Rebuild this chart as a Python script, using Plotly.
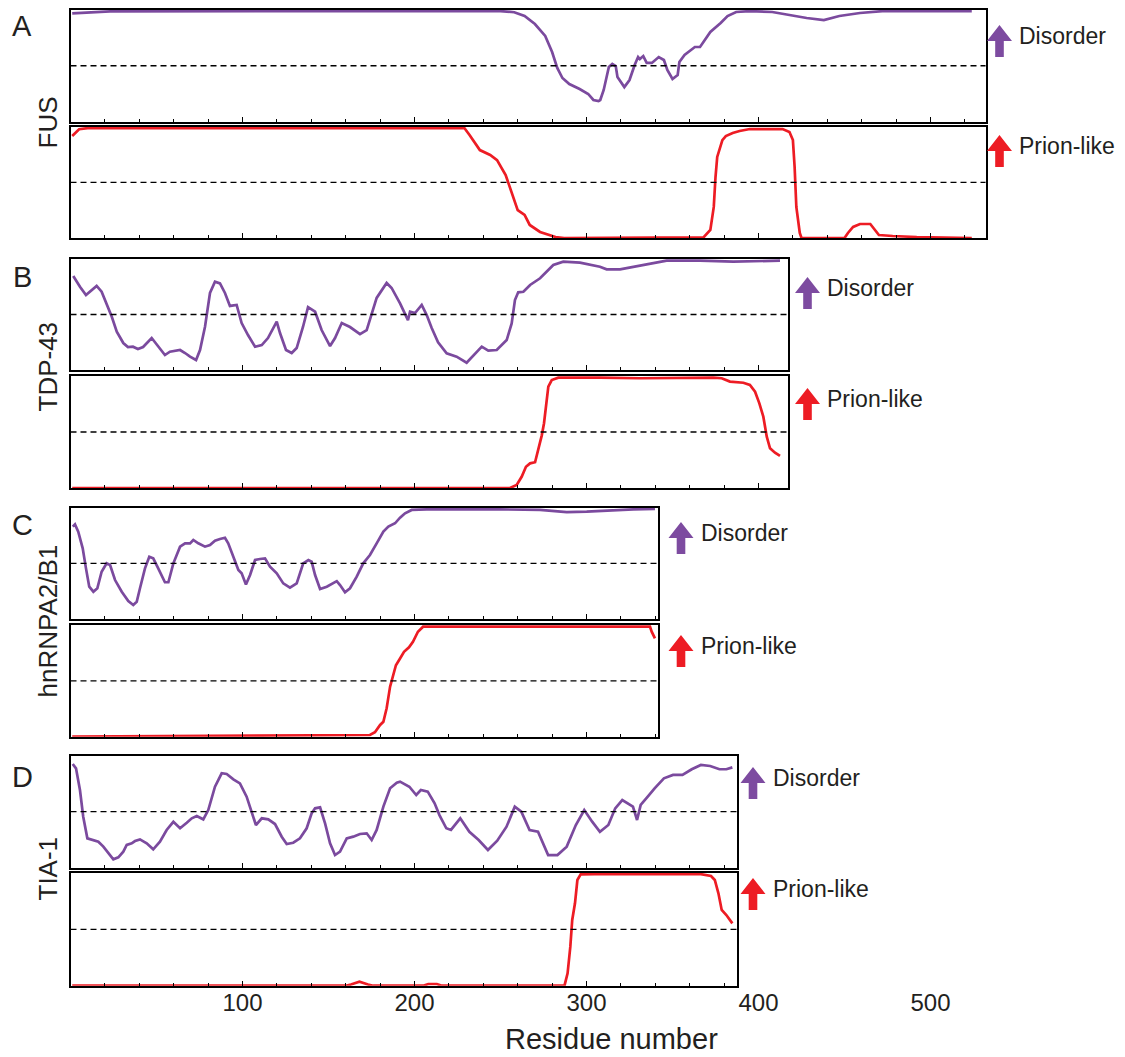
import plotly.graph_objects as go

# ---------------- data (residue, score) ----------------
PROTEINS = ["FUS", "TDP-43", "hnRNPA2/B1", "TIA-1"]
PANEL_LETTERS = ["A", "B", "C", "D"]
SERIES_LABELS = ["Disorder", "Prion-like"]
TICK_LABELS = [100, 200, 300, 400, 500]

FUS_DISORDER = [(1, .969), (23, .987), (133, .99), (250, .99), (258, .98), (264, .946), (270, .874),
                (276, .767), (280, .623), (283, .48), (286, .39), (290, .336), (296, .291), (301, .247),
                (304, .193), (307, .184), (308, .193), (310, .283), (313, .489), (315, .516), (317, .498),
                (318, .40), (322, .309), (325, .372), (328, .507), (330, .578), (331, .56), (333, .587),
                (335, .525), (338, .525), (342, .578), (345, .552), (347, .462), (350, .381), (353, .417),
                (354, .534), (357, .596), (360, .632), (363, .668), (366, .668), (368, .713), (372, .803),
                (378, .883), (382, .946), (387, .982), (395, .99), (408, .982), (420, .946), (428, .928),
                (438, .91), (447, .946), (459, .973), (472, .99), (524, .99)]
FUS_PRION = [(1, .916), (5, .977), (10, .988), (229, .988), (232, .925), (238, .79), (244, .746),
             (248, .70), (253, .566), (256, .43), (258, .36), (260, .25), (264, .207), (267, .117),
             (273, .054), (282, .009), (287, 0), (368, .005), (372, .072), (374, .279), (375, .548),
             (376, .728), (379, .88), (381, .916), (385, .943), (389, .961), (395, .979), (414, .979),
             (418, .952), (420, .88), (421, .638), (422, .279), (424, .045), (425, 0), (450, 0),
             (452, .045), (455, .099), (459, .126), (465, .126), (468, .072), (470, .027), (478, .018),
             (492, .009), (524, 0)]

TDP_DISORDER = [(1.6, .847), (5.5, .75), (9, .676), (12.3, .72), (15.2, .757), (18.1, .706), (21, .603),
                (24, .48), (26.9, .345), (30.7, .243), (33.4, .207), (36.3, .21), (39.2, .189), (42.2, .207),
                (47.2, .288), (50.9, .21), (54.9, .135), (57.8, .165), (63.7, .18), (66.6, .153), (69.5, .12),
                (73, .09), (75.3, .18), (78.2, .39), (81.1, .694), (84, .795), (86.9, .78), (89.8, .694),
                (92.7, .577), (96.6, .586), (99.5, .423), (103.2, .315), (107.3, .21), (111.2, .225),
                (114.8, .288), (119.9, .435), (121.8, .333), (125.3, .18), (128.6, .153), (131.5, .198),
                (135.2, .39), (138.1, .567), (142.2, .525), (146, .36), (150.9, .216), (153.8, .288),
                (157.7, .423), (162.5, .387), (168.3, .324), (172.2, .36), (175.1, .495), (178, .649),
                (183.8, .784), (186.7, .739), (191.6, .60), (194.5, .513), (196.2, .45), (197.4, .525),
                (200.3, .513), (204.2, .586), (207.1, .495), (210, .378), (213.7, .25), (218.7, .15),
                (224.5, .12), (230.3, .066), (235.2, .15), (239.1, .21), (242.9, .174), (247.8, .18),
                (253.6, .27), (256.5, .42), (258.4, .63), (260.3, .70), (263.3, .705), (267.2, .766),
                (273, .826), (280.7, .946), (286.5, .976), (296.2, .967), (307.8, .93), (311.7, .907),
                (319.5, .907), (327.2, .93), (338.8, .96), (346.6, .985), (366, .985), (385.3, .976),
                (412.5, .985)]
TDP_PRION = [(1, 0), (255.5, 0), (259.4, .027), (262.3, .10), (264.8, .19), (267.2, .22), (270.1, .23),
             (272, .34), (274, .47), (275.3, .578), (276.5, .756), (277.8, .905), (279.8, .964),
             (283.6, .985), (307.8, .985), (331, .98), (373.7, .985), (378.6, .98), (383.4, .95),
             (391.2, .94), (395, .92), (398, .86), (400.5, .756), (402.8, .637), (404.8, .458),
             (406.7, .354), (409.6, .315), (412.5, .286)]

HNRNP_DISORDER = [(1.3, .83), (2.6, .85), (4.5, .785), (7.1, .635), (9, .455), (10.9, .29), (13.3, .245),
                  (15.6, .276), (18.1, .425), (21, .5), (23, .485), (25.9, .35), (29.8, .245), (33.6, .162),
                  (36.5, .126), (38.5, .155), (40.4, .276), (43.3, .455), (45.8, .56), (48.1, .545),
                  (51, .455), (54.9, .33), (56.9, .33), (59.8, .5), (63.7, .65), (66.6, .68), (69.5, .68),
                  (71.4, .71), (74.3, .68), (78.2, .65), (81.1, .665), (84, .704), (86.9, .719), (89.8, .73),
                  (91.7, .68), (94.7, .56), (97.6, .44), (99.5, .41), (102, .31), (104.4, .395), (107.3, .53),
                  (110.2, .539), (113.1, .545), (116, .47), (119.9, .41), (123.7, .32), (127.6, .281),
                  (131.5, .32), (135.3, .5), (138.3, .53), (140.2, .515), (142.2, .395), (145.1, .27),
                  (149, .29), (154.8, .34), (156.7, .305), (159.6, .24), (162.5, .276), (166.4, .38),
                  (170.2, .5), (174.1, .575), (178, .68), (181.9, .785), (184.8, .83), (188.7, .86),
                  (191.6, .91), (194.5, .95), (198.4, .98), (207.1, .985), (249.7, .985), (273, .98),
                  (288.5, .96), (300.1, .964), (327.2, .985), (339.8, .99)]
HNRNP_PRION = [(1, 0), (174.1, .015), (177, .04), (180, .105), (181.9, .134), (183.8, .254), (185.8, .448),
               (187.5, .55), (189.2, .64), (191.6, .70), (193.9, .76), (196.8, .80), (199.1, .85), (202, .94),
               (205, .985), (210.8, .985), (336.9, .985), (337.9, .94), (339.8, .88)]

TIA_DISORDER = [(1.3, .926), (3.2, .887), (5.5, .694), (7.4, .455), (9.8, .262), (13.3, .247), (16.2, .232),
                (19.1, .188), (22, .129), (24.9, .075), (27.8, .093), (30.7, .143), (32.7, .203), (35.6, .218),
                (37.5, .238), (40.4, .253), (44.3, .218), (48.1, .164), (52, .232), (55.9, .337), (59.8, .41),
                (63.7, .352), (67.6, .402), (70.5, .441), (73.4, .462), (77.2, .432), (80.1, .515), (84, .723),
                (87.9, .843), (90.8, .837), (94.7, .789), (98.5, .753), (102.4, .634), (105.3, .5), (107.8, .381),
                (111.2, .441), (115, .432), (118.9, .39), (122.8, .277), (125.7, .212), (129.5, .223),
                (133.4, .262), (137.3, .352), (140.2, .486), (142.2, .53), (145.1, .539), (148, .396),
                (150.9, .218), (153.8, .113), (156.7, .143), (160.6, .262), (164.4, .277), (168.3, .301),
                (172.2, .307), (175.1, .247), (178, .337), (181.9, .545), (185.8, .709), (189.7, .759),
                (191.6, .768), (197, .723), (201, .649), (203.7, .694), (207.7, .679), (211.7, .575),
                (214.5, .47), (218.5, .352), (221.2, .337), (226.6, .441), (231.9, .321), (237.3, .247),
                (242.7, .158), (248.1, .241), (253.5, .366), (258.3, .545), (262.1, .5), (266.9, .337),
                (271.8, .321), (277.7, .113), (283.1, .113), (288.5, .188), (293.8, .381), (298.7, .515),
                (303.3, .411), (307.8, .321), (312.7, .381), (316.7, .53), (320.8, .604), (323.5, .575),
                (327, .545), (329.4, .426), (331.5, .56), (335.6, .634), (339.6, .709), (345, .798),
                (350.3, .828), (355.8, .828), (361.2, .879), (366.5, .917), (371.9, .908), (377.3, .879),
                (381.3, .879), (384.8, .896)]
TIA_PRION = [(1, 0), (160, 0), (163, .01), (168, .035), (173, .01), (176, 0), (205, 0), (208, .015),
             (213, .015), (216, 0), (287.2, 0), (289, .11), (290.6, .346), (291.7, .583), (293.3, .731),
             (294.7, .938), (296.6, .988), (304.6, .99), (366.5, .99), (372.4, .973), (374.6, .938),
             (376.7, .82), (378.6, .672), (381.3, .627), (384.8, .553)]

SERIES = [(FUS_DISORDER, FUS_PRION), (TDP_DISORDER, TDP_PRION),
          (HNRNP_DISORDER, HNRNP_PRION), (TIA_DISORDER, TIA_PRION)]
THRESHOLD = 0.5

# ---------------- layout (pixels) ----------------
W, H = 1125, 1057
LEFT = 70.5           # px position of residue 0
PXR = 1.72            # px per residue
AXIS_MAX = [532, 417, 341.6, 387.3]
ROWS = [(10, 121.5, 126.7, 238), (259, 370, 376, 488),
        (507.7, 619, 625, 736.7), (755.7, 867.7, 873, 985.7)]
ARROW_X = [999.5, 807.5, 681, 753]
ARROW_TOPS = [(25, 135), (277, 388), (522, 635), (767, 878)]
LETTER_Y = [26, 277, 525, 777]
NAME_Y = [123, 367, 621, 869]

PURPLE = "#7B4A9E"
PURPLE_ARROW = "#7D4BA0"
RED = "#ED1C24"
TEXT = "#231F20"
FONT = "Liberation Sans, Arial, Helvetica, sans-serif"


def px_x(p):
    return p / W


def px_y(p):
    return 1 - p / H


def arrow_path(cx, top):
    hw, sw, hh, L = 12.5, 4.3, 16, 32
    pts = [(cx, top), (cx + hw, top + hh), (cx + sw, top + hh), (cx + sw, top + L),
           (cx - sw, top + L), (cx - sw, top + hh), (cx - hw, top + hh)]
    return "M " + " L ".join(f"{px_x(x):.5f},{px_y(y):.5f}" for x, y in pts) + " Z"


fig = go.Figure()
layout = {}
shapes = []
annotations = []

for i in range(4):
    top_d, bot_d, top_p, bot_p = ROWS[i]
    xdom = [px_x(LEFT), px_x(LEFT + AXIS_MAX[i] * PXR)]
    for j, (data, color, (t, b)) in enumerate([(SERIES[i][0], PURPLE, (top_d, bot_d)),
                                               (SERIES[i][1], RED, (top_p, bot_p))]):
        k = 2 * i + j + 1
        suf = "" if k == 1 else str(k)
        fig.add_trace(go.Scatter(x=[p[0] for p in data], y=[p[1] for p in data], mode="lines",
                                 line=dict(color=color, width=2.7), xaxis="x" + suf, yaxis="y" + suf,
                                 showlegend=False, hoverinfo="skip"))
        layout["xaxis" + suf] = dict(
            domain=xdom, range=[0, AXIS_MAX[i]], anchor="y" + suf,
            showline=True, mirror=True, linecolor="black", linewidth=1.7,
            ticks="inside", tick0=0, dtick=100, ticklen=5, tickwidth=1.2, tickcolor="black",
            showticklabels=False, showgrid=False, zeroline=False,
            minor=dict(tick0=0, dtick=20, ticks="inside", ticklen=3, tickwidth=1, tickcolor="black",
                       showgrid=False))
        layout["yaxis" + suf] = dict(
            domain=[px_y(b), px_y(t)], range=[0, 1], anchor="x" + suf,
            showline=True, mirror=True, linecolor="black", linewidth=1.7,
            ticks="", showticklabels=False, showgrid=False, zeroline=False)
        shapes.append(dict(type="line", xref=f"x{suf} domain", yref="y" + suf, x0=0, x1=1,
                           y0=THRESHOLD, y1=THRESHOLD, line=dict(color="black", width=1.3, dash="6px,4px")))
        # arrow + label
        atop = ARROW_TOPS[i][j]
        shapes.append(dict(type="path", xref="paper", yref="paper", path=arrow_path(ARROW_X[i], atop),
                           fillcolor=PURPLE_ARROW if j == 0 else RED, line=dict(width=0)))
        annotations.append(dict(text=SERIES_LABELS[j], xref="paper", yref="paper",
                                x=px_x(ARROW_X[i] + 17.5), y=px_y(atop + 11), xanchor="left",
                                yanchor="middle", showarrow=False, font=dict(size=23, color=TEXT, family=FONT)))
    annotations.append(dict(text=PANEL_LETTERS[i], xref="paper", yref="paper", x=px_x(22), y=px_y(LETTER_Y[i]),
                            xanchor="center", yanchor="middle", showarrow=False,
                            font=dict(size=29, color=TEXT, family=FONT)))
    annotations.append(dict(text=PROTEINS[i], xref="paper", yref="paper", x=px_x(47.5), y=px_y(NAME_Y[i]),
                            xanchor="center", yanchor="middle", textangle=-90, showarrow=False,
                            font=dict(size=26, color=TEXT, family=FONT)))

# shared residue-number axis (free-positioned just below panel D)
fig.add_trace(go.Scatter(x=[None], y=[None], xaxis="x9", yaxis="y8", showlegend=False, hoverinfo="skip"))
layout["xaxis9"] = dict(domain=[px_x(LEFT), px_x(LEFT + AXIS_MAX[0] * PXR)], range=[0, AXIS_MAX[0]],
                        anchor="free", position=px_y(986), side="bottom",
                        tickvals=TICK_LABELS, ticktext=[str(v) for v in TICK_LABELS],
                        ticks="", showline=False, showgrid=False, zeroline=False,
                        tickfont=dict(size=24, color=TEXT, family=FONT))
annotations.append(dict(text="Residue number", xref="paper", yref="paper", x=px_x(611), y=px_y(1039),
                        xanchor="center", yanchor="middle", showarrow=False,
                        font=dict(size=29, color=TEXT, family=FONT)))

fig.update_layout(**layout)
fig.update_layout(width=W, height=H, margin=dict(l=0, r=0, t=0, b=0), paper_bgcolor="white",
                  plot_bgcolor="rgba(0,0,0,0)", shapes=shapes, annotations=annotations,
                  font=dict(family=FONT))
fig.write_html("out.html")
